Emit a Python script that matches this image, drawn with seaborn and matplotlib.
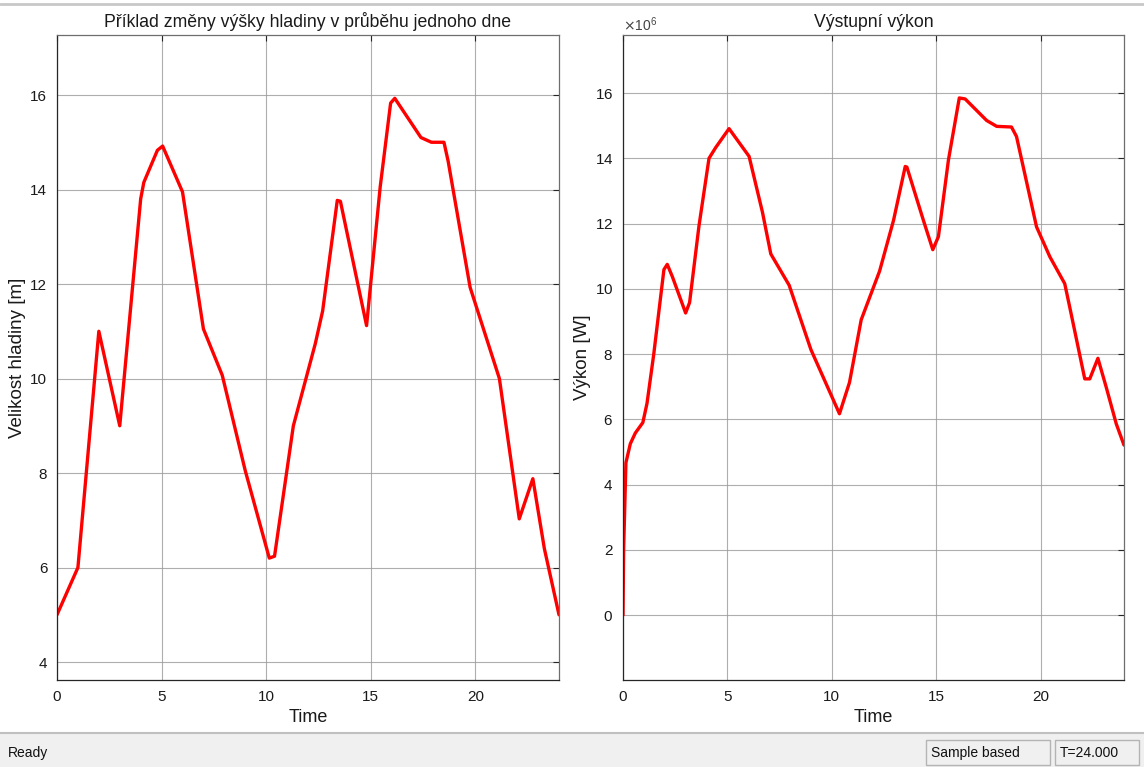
import numpy as np
import pandas as pd
import seaborn as sns
import matplotlib
matplotlib.use("Agg")
import matplotlib.pyplot as plt
from matplotlib.patches import Rectangle
from matplotlib.lines import Line2D
from matplotlib.ticker import ScalarFormatter, MultipleLocator

# ---- data ----
level_time = [0, 1, 2, 3, 4, 4.15, 4.8, 5.05, 6, 7, 7.9, 9, 10.15, 10.4, 11.3,
              12.35, 12.7, 13.4, 13.55, 14.8, 15.45, 15.95, 16.15, 17.4, 17.9,
              18.5, 18.7, 19.75, 21.15, 22.1, 22.75, 23.3, 24]
level_m = [5.0, 6.0, 11.0, 9.0, 13.8, 14.15, 14.83, 14.92, 13.95, 11.05, 10.07,
           8.05, 6.2, 6.24, 9.0, 10.74, 11.43, 13.77, 13.75, 11.12, 14.05, 15.83,
           15.93, 15.1, 15.0, 15.0, 14.6, 11.93, 10.0, 7.03, 7.88, 6.4, 5.0]

power_time = [0, 0.03, 0.14, 0.35, 0.59, 0.95, 1.15, 1.47, 1.96, 2.12, 2.36, 3.0,
              3.19, 3.64, 4.12, 4.44, 5.08, 6.04, 6.68, 7.08, 7.96, 9.0, 10.37,
              10.85, 11.41, 12.29, 12.96, 13.52, 13.6, 14.39, 14.84, 15.11, 15.59,
              16.11, 16.39, 17.42, 17.9, 18.61, 18.85, 19.81, 20.45, 21.16, 21.4,
              22.12, 22.36, 22.75, 23.15, 23.63, 24.0]
power_W = [0.0, 2.0e6, 4.67e6, 5.25e6, 5.58e6, 5.9e6, 6.49e6, 7.98e6, 10.59e6,
           10.75e6, 10.38e6, 9.26e6, 9.58e6, 11.93e6, 14.0e6, 14.33e6, 14.91e6,
           14.06e6, 12.35e6, 11.07e6, 10.11e6, 8.14e6, 6.17e6, 7.13e6, 9.05e6,
           10.54e6, 12.1e6, 13.75e6, 13.73e6, 12.1e6, 11.2e6, 11.6e6, 13.95e6,
           15.85e6, 15.82e6, 15.16e6, 14.98e6, 14.96e6, 14.67e6, 11.9e6, 10.98e6,
           10.16e6, 9.44e6, 7.24e6, 7.24e6, 7.87e6, 6.98e6, 5.86e6, 5.21e6]

titles = ["Příklad změny výšky hladiny v průběhu jednoho dne", "Výstupní výkon"]
ylabels = ["Velikost hladiny [m]", "Výkon [W]"]
xlabel = "Time"
status_left = "Ready"
status_mid = "Sample based"
status_right = "T=24.000"

# ---- style ----
sns.set_theme(style="white")
plt.rcParams["font.family"] = ["Liberation Sans", "DejaVu Sans"]
plt.rcParams["axes.unicode_minus"] = False

W, H = 1144, 767
fig = plt.figure(figsize=(W / 100, H / 100), dpi=100)
fig.patch.set_facecolor("white")

def fx(px):
    return px / W

def fy(py):
    return 1 - py / H

ax1 = fig.add_axes([fx(57), fy(680), fx(559 - 57), (680 - 35) / H])
ax2 = fig.add_axes([fx(623), fy(680), fx(1124 - 623), (680 - 35) / H])

df1 = pd.DataFrame({"t": level_time, "v": level_m})
df2 = pd.DataFrame({"t": power_time, "v": power_W})

sns.lineplot(data=df1, x="t", y="v", ax=ax1, color="#ff0000", linewidth=2.4,
             sort=False, estimator=None)
sns.lineplot(data=df2, x="t", y="v", ax=ax2, color="#ff0000", linewidth=2.4,
             sort=False, estimator=None)

ax1.set_ylim(3.62, 17.27)
ax2.set_ylim(-1.99e6, 17.78e6)

for ax, title, yl in [(ax1, titles[0], ylabels[0]), (ax2, titles[1], ylabels[1])]:
    ax.set_xlim(0, 24)
    ax.xaxis.set_major_locator(MultipleLocator(5))
    ax.yaxis.set_major_locator(MultipleLocator(2 if ax is ax1 else 2e6))
    ax.set_title(title, fontsize=12.7, color="#1a1a1a", pad=6)
    ax.set_xlabel(xlabel, fontsize=13, color="#1a1a1a", labelpad=4)
    ax.set_ylabel(yl, fontsize=13.5, color="#1a1a1a", labelpad=3)
    ax.grid(True, color="#9a9a9a", linewidth=0.8, alpha=0.8)
    ax.set_axisbelow(True)
    ax.tick_params(direction="in", length=4, width=0.8, colors="#262626",
                   labelsize=11, top=True, right=True, pad=7,
                   labelcolor="#1a1a1a")
    for side, sp in ax.spines.items():
        sp.set_visible(True)
        sp.set_linewidth(0.9)
        sp.set_color("#262626" if side in ("left", "bottom") else "#6e6e6e")
    ax.set_facecolor("white")

fmt = ScalarFormatter(useMathText=True)
fmt.set_powerlimits((6, 6))
ax2.yaxis.set_major_formatter(fmt)
ax2.yaxis.get_offset_text().set_fontsize(10)
ax2.yaxis.get_offset_text().set_color("#444444")

# ---- window chrome: top border and status bar ----
fig.add_artist(Line2D([0, 1], [fy(4), fy(4)], color="#c8c8c8", linewidth=2,
                      transform=fig.transFigure))
fig.add_artist(Rectangle((0, 0), 1, fy(733), transform=fig.transFigure,
                         facecolor="#f0f0f0", edgecolor="none"))
fig.add_artist(Line2D([0, 1], [fy(733), fy(733)], color="#c0c0c0", linewidth=1.5,
                      transform=fig.transFigure))
fig.add_artist(Rectangle((fx(926), fy(765)), fx(1050 - 926), (765 - 740) / H,
                         transform=fig.transFigure, facecolor="#f0f0f0",
                         edgecolor="#b4b4b4", linewidth=1))
fig.add_artist(Rectangle((fx(1055), fy(765)), fx(1139 - 1055), (765 - 740) / H,
                         transform=fig.transFigure, facecolor="#f0f0f0",
                         edgecolor="#b4b4b4", linewidth=1))
fig.text(fx(8), fy(753), status_left, fontsize=10, va="center", ha="left",
         color="#111111")
fig.text(fx(931), fy(753), status_mid, fontsize=10, va="center", ha="left",
         color="#111111")
fig.text(fx(1060), fy(753), status_right, fontsize=10, va="center", ha="left",
         color="#111111")

fig.savefig("out.png", dpi=100, facecolor="white")
